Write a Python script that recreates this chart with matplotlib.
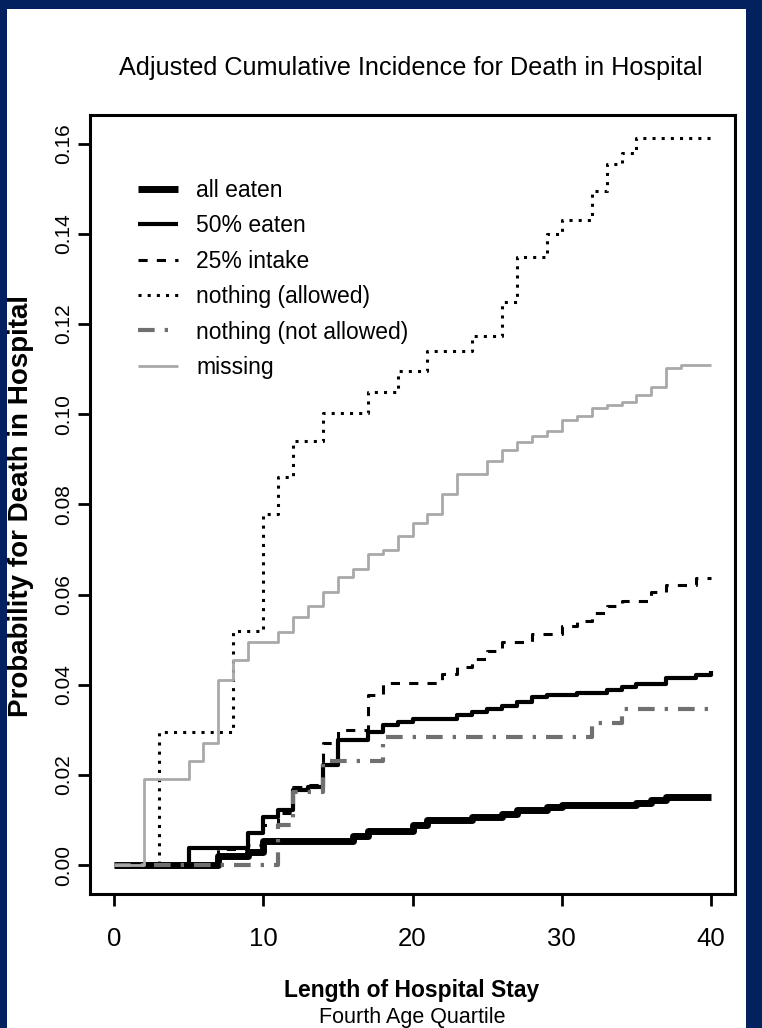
import numpy as np
import matplotlib.pyplot as plt
from matplotlib.patches import Rectangle

W, H, DPI = 762, 1028, 100
NAVY = '#03215e'
FONT = ['Liberation Sans', 'DejaVu Sans']

# cumulative incidence (days, probability)
all_eaten_x = [0, 7, 9, 10, 16, 17, 20, 21, 24, 26, 27, 29, 30, 35, 36, 37, 40]
all_eaten_y = [0, 0.002, 0.003, 0.0053, 0.0065, 0.0075, 0.0089, 0.0101, 0.0107,
               0.0114, 0.0122, 0.0129, 0.0133, 0.0138, 0.0144, 0.0151, 0.0151]

half_eaten_x = [0, 5, 9, 10, 11, 12, 13, 14, 15, 17, 18, 19, 20, 23, 24, 25, 26,
                27, 28, 29, 31, 33, 34, 35, 37, 39, 40]
half_eaten_y = [0, 0.0037, 0.0071, 0.0107, 0.0122, 0.0167, 0.0174, 0.0222, 0.0278,
                0.0296, 0.031, 0.0318, 0.0324, 0.0333, 0.034, 0.0347, 0.0352, 0.0363,
                0.0374, 0.0378, 0.0381, 0.0389, 0.0396, 0.0402, 0.0415, 0.0422, 0.043]

quarter_x = [0, 7, 9, 10, 11, 12, 13, 14, 15, 17, 18, 22, 23, 24, 25, 26, 28, 30,
             31, 32, 33, 34, 36, 37, 39, 40]
quarter_y = [0, 0.0035, 0.0044, 0.009, 0.0115, 0.0173, 0.0178, 0.027, 0.030, 0.0378,
             0.0404, 0.0424, 0.044, 0.0457, 0.0475, 0.0496, 0.0513, 0.053, 0.0542,
             0.0559, 0.0574, 0.0585, 0.0607, 0.0622, 0.0636, 0.0636]

allowed_x = [0, 3, 8, 10, 11, 12, 14, 17, 19, 21, 24, 26, 27, 29, 30, 32, 33, 34, 35, 40]
allowed_y = [0, 0.0295, 0.052, 0.078, 0.086, 0.094, 0.1004, 0.105, 0.1096, 0.114,
             0.1173, 0.125, 0.135, 0.140, 0.143, 0.1496, 0.1556, 0.158, 0.1613, 0.1613]

not_allowed_x = [0, 11, 12, 14, 18, 32, 34, 40]
not_allowed_y = [0, 0.009, 0.0163, 0.023, 0.0285, 0.0315, 0.0347, 0.0347]

missing_x = [0, 2, 5, 6, 7, 8, 9, 11, 12, 13, 14, 15, 16, 17, 18, 19, 20, 21, 22, 23,
             25, 26, 27, 28, 29, 30, 31, 32, 33, 34, 35, 36, 37, 38, 40]
missing_y = [0, 0.019, 0.023, 0.027, 0.041, 0.0455, 0.0496, 0.0518, 0.055, 0.0575,
             0.0605, 0.064, 0.0656, 0.069, 0.070, 0.073, 0.076, 0.078, 0.0824, 0.0867,
             0.0896, 0.092, 0.0938, 0.0951, 0.0964, 0.0987, 0.0996, 0.1013, 0.102,
             0.1027, 0.1042, 0.106, 0.1102, 0.1109, 0.1109]

x_ticks = [0, 10, 20, 30, 40]
y_ticks = [0.00, 0.02, 0.04, 0.06, 0.08, 0.10, 0.12, 0.14, 0.16]

series = [
    ('all eaten', all_eaten_x, all_eaten_y, dict(color='black', lw=5)),
    ('50% eaten', half_eaten_x, half_eaten_y, dict(color='black', lw=3)),
    ('25% intake', quarter_x, quarter_y, dict(color='black', lw=2.2, dashes=(3, 3))),
    ('nothing (allowed)', allowed_x, allowed_y, dict(color='black', lw=2.2, dashes=(1, 2))),
    ('nothing (not allowed)', not_allowed_x, not_allowed_y,
     dict(color='#707070', lw=3, dashes=(4, 2.4, 0.8, 2.4))),
    ('missing', missing_x, missing_y, dict(color='#a9a9a9', lw=2)),
]

plt.rcParams['font.family'] = FONT

fig = plt.figure(figsize=(W / DPI, H / DPI), dpi=DPI, facecolor=NAVY)
# white slide panel inside the navy frame
fig.patches.append(Rectangle((7 / W, 0), (746 - 7) / W, (H - 9) / H,
                             transform=fig.transFigure, facecolor='white',
                             edgecolor='none', zorder=-1))

ax = fig.add_axes([90 / W, 1 - 894 / H, 645 / W, 779 / H])
for label, xs, ys, style in series:
    ax.step(xs, ys, where='post', label=label, solid_capstyle='butt', **style)

ax.set_xlim(-1.6, 41.6)
ax.set_ylim(-0.0064, 0.1664)
ax.set_xticks(x_ticks)
ax.set_xticklabels([str(t) for t in x_ticks], fontsize=18.5)
ax.set_yticks(y_ticks)
ax.set_yticklabels(['%.2f' % t for t in y_ticks], fontsize=15, rotation=90, va='center')
ax.tick_params(direction='out', length=8.5, width=2, color='black')
ax.tick_params(axis='x', pad=15.5)
ax.tick_params(axis='y', pad=4)
for sp in ax.spines.values():
    sp.set_linewidth(2.2)

ax.legend(loc='upper left', bbox_to_anchor=(138 / W, 1 - 179 / H),
          bbox_transform=fig.transFigure, frameon=False, fontsize=16.5,
          handlelength=1.75, handletextpad=0.8, labelspacing=0.54,
          borderpad=0, borderaxespad=0)

fig.text(411 / W, 1 - 68 / H, 'Adjusted Cumulative Incidence for Death in Hospital',
         ha='center', va='center', fontsize=18.2)
fig.text(21 / W, 1 - 506 / H, 'Probability for Death in Hospital', rotation=90,
         ha='center', va='center', fontsize=20, fontweight='bold')
fig.text(412 / W, 1 - 991 / H, 'Length of Hospital Stay', ha='center', va='center',
         fontsize=16.5, fontweight='bold')
fig.text(412 / W, 1 - 1018 / H, 'Fourth Age Quartile', ha='center', va='center',
         fontsize=15.5)

fig.savefig('out.png', dpi=DPI, facecolor=fig.get_facecolor())
